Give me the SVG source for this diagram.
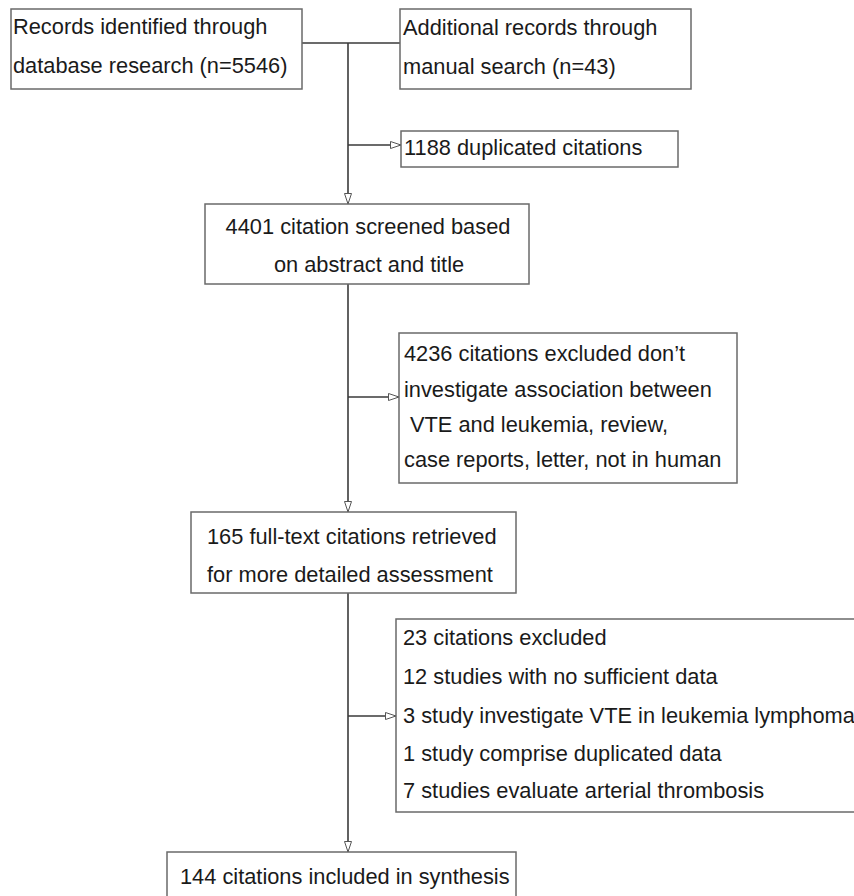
<svg xmlns="http://www.w3.org/2000/svg" width="854" height="896" viewBox="0 0 854 896">
<style>
.box{fill:#fff;stroke:#6a6a6a;stroke-width:1.5}
.t{font-family:"Liberation Sans",Arial,sans-serif;font-size:21.8px;fill:#1a1a1a}
.c{fill:none;stroke:#3a3a3a;stroke-width:1.6}
</style>
<defs>
<marker id="arr" markerUnits="userSpaceOnUse" markerWidth="14" markerHeight="10" refX="11" refY="4" orient="auto">
<path d="M0.5,0.5 L11,4 L0.5,7.5 Z" fill="#fff" stroke="#555" stroke-width="1"/>
</marker>
</defs>
<rect width="854" height="896" fill="#fff"/>
<g id="connectors">
<path class="c" d="M302,43 H400"/>
<path class="c" d="M348,43 V204" marker-end="url(#arr)"/>
<path class="c" d="M348,145 H401" marker-end="url(#arr)"/>
<path class="c" d="M348,284 V512" marker-end="url(#arr)"/>
<path class="c" d="M348,397 H399" marker-end="url(#arr)"/>
<path class="c" d="M348,593 V852" marker-end="url(#arr)"/>
<path class="c" d="M348,716 H396" marker-end="url(#arr)"/>
</g>
<g id="n1">
<rect class="box" x="11" y="9" width="291" height="80"/>
<text class="t" x="13" y="34">Records identified through</text>
<text class="t" x="13" y="73">database research (n=5546)</text>
</g>
<g id="n2">
<rect class="box" x="400" y="9" width="291" height="80"/>
<text class="t" x="403" y="35">Additional records through</text>
<text class="t" x="403" y="74">manual search (n=43)</text>
</g>
<g id="n3">
<rect class="box" x="401" y="131" width="277" height="36"/>
<text class="t" x="404" y="155">1188 duplicated citations</text>
</g>
<g id="n4">
<rect class="box" x="205" y="204" width="324" height="80"/>
<text class="t" x="368" y="234" text-anchor="middle">4401 citation screened based</text>
<text class="t" x="369" y="272" text-anchor="middle">on abstract and title</text>
</g>
<g id="n5">
<rect class="box" x="399" y="333" width="338" height="150"/>
<text class="t" x="404" y="361">4236 citations excluded don’t</text>
<text class="t" x="404" y="397">investigate association between</text>
<text class="t" x="410" y="432">VTE and leukemia, review,</text>
<text class="t" x="404" y="467">case reports, letter, not in human</text>
</g>
<g id="n6">
<rect class="box" x="191" y="512" width="325" height="81"/>
<text class="t" x="207" y="544">165 full-text citations retrieved</text>
<text class="t" x="207" y="582">for more detailed assessment</text>
</g>
<g id="n7">
<rect class="box" x="396" y="619" width="480" height="193"/>
<text class="t" x="403" y="645">23 citations excluded</text>
<text class="t" x="403" y="684">12 studies with no sufficient data</text>
<text class="t" x="403" y="723">3 study investigate VTE in leukemia lymphoma</text>
<text class="t" x="403" y="761">1 study comprise duplicated data</text>
<text class="t" x="403" y="798">7 studies evaluate arterial thrombosis</text>
</g>
<g id="n8">
<rect class="box" x="167" y="852" width="349" height="60"/>
<text class="t" x="180" y="884">144 citations included in synthesis</text>
</g>
</svg>
